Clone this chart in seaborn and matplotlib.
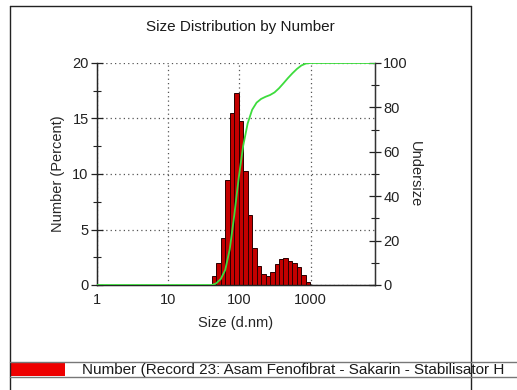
import numpy as np
import pandas as pd
import matplotlib
matplotlib.use("Agg")
import matplotlib.pyplot as plt
import seaborn as sns
from matplotlib.lines import Line2D
from matplotlib.patches import Rectangle
from matplotlib.ticker import FixedLocator, FixedFormatter, NullFormatter

# Zetasizer size classes: 70 log-spaced bins between 0.4 nm and 10000 nm
n_classes = 70
size_min_nm = 0.4
size_max_nm = 10000.0
first_class = 32  # index of the first non-empty class

# Number distribution (%) per size class, starting at first_class
number_pct = [0.8, 2.0, 4.2, 9.5, 15.5, 17.3, 14.8, 10.3, 6.3, 3.3, 1.7,
              1.0, 0.8, 1.2, 1.9, 2.3, 2.4, 2.2, 2.0, 1.6, 0.9, 0.25]

x_ticks = [1, 10, 100, 1000]
x_tick_labels = ["1", "10", "100", "1000"]
left_ticks = [0, 5, 10, 15, 20]
left_minor = [2.5, 7.5, 12.5, 17.5]
right_ticks = [0, 20, 40, 60, 80, 100]
right_minor = [10, 30, 50, 70, 90]

title = "Size Distribution by Number"
x_label = "Size (d.nm)"
y_label = "Number (Percent)"
y2_label = "Undersize"
legend_text = "Number (Record 23: Asam Fenofibrat - Sakarin - Stabilisator H"

# ---- class geometry (log10 units) ----
step = np.log10(size_max_nm / size_min_nm) / n_classes
edges_log = np.log10(size_min_nm) + step * np.arange(n_classes + 1)
n_used = len(number_pct)
lo_log = edges_log[first_class]
hi_log = edges_log[first_class + n_used]
centers = 10 ** (edges_log[first_class:first_class + n_used] + step / 2)

df = pd.DataFrame({"size": centers, "number": number_pct})

# Cumulative undersize curve from the distribution
values = np.asarray(number_pct, dtype=float)
cum = np.cumsum(values) / values.sum() * 100
x_max = 8000
under_x = np.concatenate([[1.0, 10 ** lo_log],
                          10 ** edges_log[first_class + 1:first_class + n_used + 1],
                          [x_max]])
under_y = np.concatenate([[0.0, 0.0], cum, [100.0]])
under_df = pd.DataFrame({"size": under_x, "undersize": under_y})

# ---- figure ----
sns.set_style("white")
plt.rcParams["font.family"] = ["Liberation Sans", "DejaVu Sans"]
plt.rcParams["text.color"] = "#1a1a1a"

W, H = 517, 390
fig = plt.figure(figsize=(W / 100, H / 100), dpi=100)
fig.patch.set_facecolor("white")


def fx(px):
    return px / W


def fy(py):
    return 1 - py / H


ax = fig.add_axes([fx(97), fy(285), fx(375) - fx(97), fy(63) - fy(285)])

sns.histplot(data=df, x="size", weights="number", bins=n_used,
             binrange=(lo_log, hi_log), log_scale=True, stat="count",
             color="#c40000", alpha=1.0, edgecolor="#2a0000", linewidth=0.7,
             ax=ax, zorder=2)

ax.set_xlim(1, x_max)
ax.set_ylim(0, 20)
ax.xaxis.set_major_locator(FixedLocator(x_ticks))
ax.xaxis.set_major_formatter(FixedFormatter(x_tick_labels))
minor_x = [m * 10 ** d for d in range(0, 4) for m in range(2, 10) if m * 10 ** d < x_max]
ax.xaxis.set_minor_locator(FixedLocator(minor_x))
ax.xaxis.set_minor_formatter(NullFormatter())
ax.yaxis.set_major_locator(FixedLocator(left_ticks))
ax.yaxis.set_minor_locator(FixedLocator(left_minor))

ax.grid(True, which="major", linestyle=(0, (1, 2.5)), color="#555555", linewidth=0.9, zorder=0)
ax.set_axisbelow(True)
ax.spines["top"].set_visible(False)
for s in ("left", "bottom", "right"):
    ax.spines[s].set_color("#222222")
    ax.spines[s].set_linewidth(1.0)

ax.tick_params(axis="both", which="major", direction="inout", length=8, width=0.9,
               colors="#222222", labelsize=10.5, pad=2)
ax.tick_params(axis="both", which="minor", direction="inout", length=6, width=0.8,
               colors="#222222")
ax.set_xlabel(x_label, fontsize=10.5, labelpad=6)
ax.set_ylabel(y_label, fontsize=10.5, labelpad=5)

ax2 = ax.twinx()
sns.lineplot(data=under_df, x="size", y="undersize", ax=ax2, color="#3ddc3d",
             linewidth=1.3, estimator=None, sort=False, zorder=3)
ax2.set_ylim(0, 100)
ax2.set_xlim(1, x_max)
ax2.yaxis.set_major_locator(FixedLocator(right_ticks))
ax2.yaxis.set_minor_locator(FixedLocator(right_minor))
ax2.tick_params(axis="y", which="major", direction="inout", length=8, width=0.9,
                colors="#222222", labelsize=10.5, pad=2)
ax2.tick_params(axis="y", which="minor", direction="inout", length=6, width=0.8,
                colors="#222222")
ax2.spines["top"].set_visible(False)
ax2.spines["right"].set_color("#333333")
ax2.set_xlabel("")
ax2.set_ylabel(y2_label, rotation=270, fontsize=10.5, labelpad=10)

fig.text(fx(240), fy(27), title, ha="center", va="center", fontsize=11)

# ---- report frame and legend strip ----
frame = dict(color="#222222", linewidth=1.0)
fig.add_artist(Line2D([fx(10), fx(471)], [fy(6), fy(6)], **frame))
fig.add_artist(Line2D([fx(10), fx(10)], [fy(6), fy(390)], **frame))
fig.add_artist(Line2D([fx(471), fx(471)], [fy(6), fy(390)], **frame))
fig.add_artist(Line2D([fx(10), fx(517)], [fy(362), fy(362)], color="#777777", linewidth=1.0))
fig.add_artist(Line2D([fx(10), fx(517)], [fy(377), fy(377)], color="#777777", linewidth=1.0))
fig.add_artist(Rectangle((fx(10), fy(376)), fx(65) - fx(10), fy(363) - fy(376),
                         transform=fig.transFigure, facecolor="#ee0000", edgecolor="none"))
fig.text(fx(82), fy(370), legend_text, ha="left", va="center", fontsize=11)

fig.savefig("out.png", dpi=100, facecolor="white")
